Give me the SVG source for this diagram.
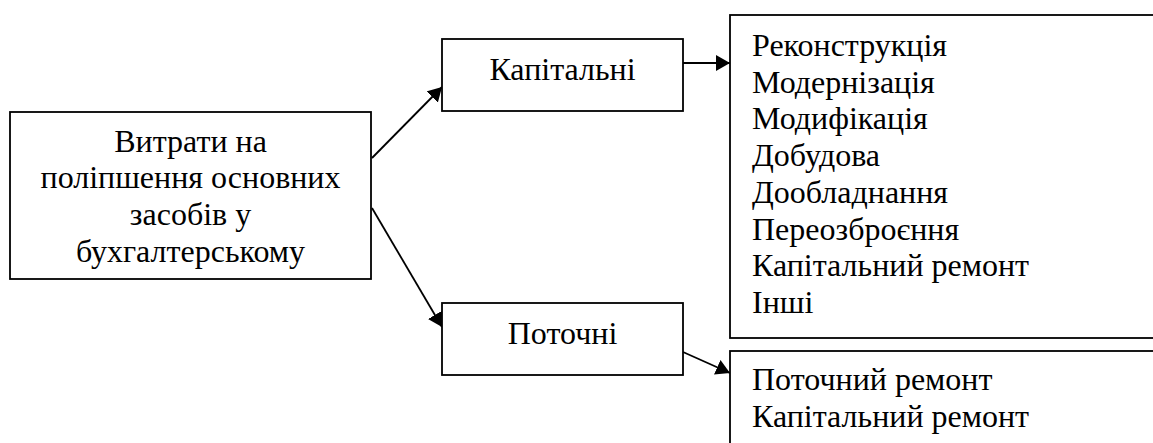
<svg xmlns="http://www.w3.org/2000/svg" width="1153" height="443" viewBox="0 0 1153 443">
  <defs>
    <marker id="arrow" viewBox="0 0 14 16" refX="14" refY="8" markerWidth="14" markerHeight="16" orient="auto" markerUnits="userSpaceOnUse">
      <path d="M0,0 L14,8 L0,16 Z" fill="#000"/>
    </marker>
    <style>
      .box { fill: #fff; stroke: #000; stroke-width: 1.8; }
      text { font-family: 'Liberation Serif', serif; font-size: 32px; fill: #000; }
      .mid { text-anchor: middle; }
      .edge { stroke: #000; stroke-width: 1.8; fill: none; marker-end: url(#arrow); }
    </style>
  </defs>
  <rect width="1153" height="443" fill="#fff"/>

  <g id="connectors">
    <line class="edge" x1="372" y1="158" x2="442" y2="87"/>
    <line class="edge" x1="372" y1="208" x2="442" y2="327"/>
    <line class="edge" x1="683" y1="63" x2="730" y2="63"/>
    <line class="edge" x1="683" y1="352" x2="730" y2="373"/>
  </g>

  <g id="node-root">
    <rect class="box" x="10" y="112" width="361" height="167"/>
    <text class="mid" x="190.5" y="151.7">Витрати на</text>
    <text class="mid" x="190.5" y="188.4">поліпшення основних</text>
    <text class="mid" x="190.5" y="225.1">засобів у</text>
    <text class="mid" x="190.5" y="261.8">бухгалтерському</text>
  </g>

  <g id="node-capital">
    <rect class="box" x="442" y="39" width="241" height="72"/>
    <text class="mid" x="562.5" y="80">Капітальні</text>
  </g>

  <g id="node-current">
    <rect class="box" x="442" y="303" width="241" height="72"/>
    <text class="mid" x="562.5" y="343.5">Поточні</text>
  </g>

  <g id="node-capital-list">
    <rect class="box" x="730" y="15" width="440" height="323"/>
    <text x="752" y="56">Реконструкція</text>
    <text x="752" y="92.7">Модернізація</text>
    <text x="752" y="129.4">Модифікація</text>
    <text x="752" y="166.1">Добудова</text>
    <text x="752" y="202.8">Дообладнання</text>
    <text x="752" y="239.5">Переозброєння</text>
    <text x="752" y="276.2">Капітальний ремонт</text>
    <text x="752" y="312.9">Інші</text>
  </g>

  <g id="node-current-list">
    <rect class="box" x="730" y="351" width="440" height="120"/>
    <text x="752" y="390">Поточний ремонт</text>
    <text x="752" y="426.7">Капітальний ремонт</text>
  </g>
</svg>
